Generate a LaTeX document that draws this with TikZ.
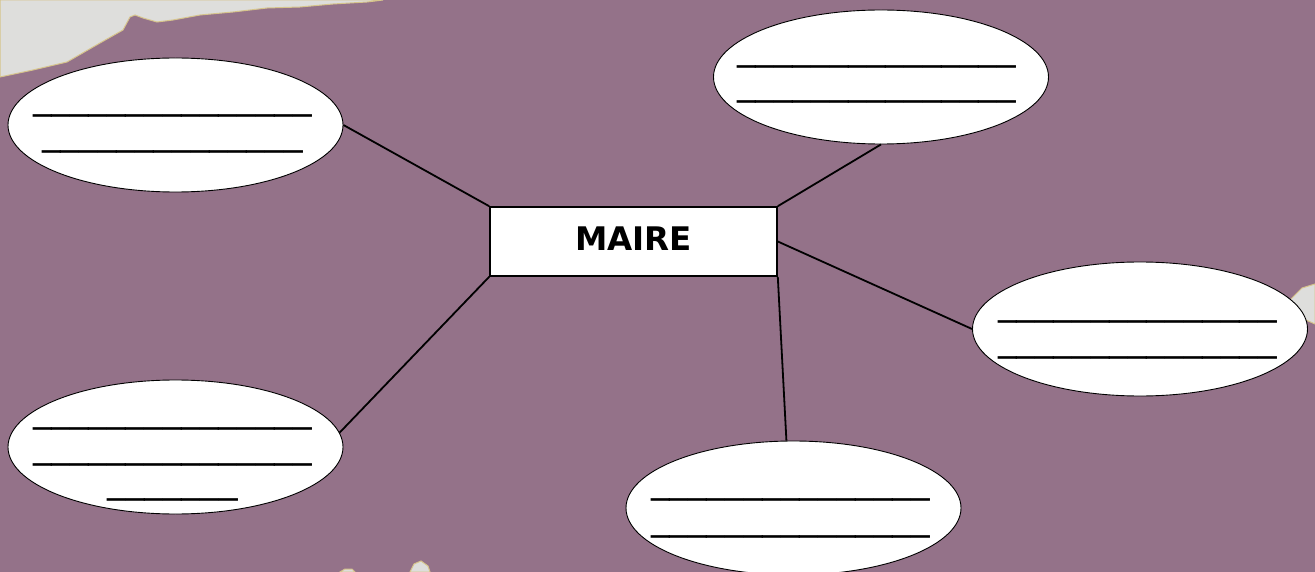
\documentclass[tikz,border=0pt]{standalone}
\usepackage{fontspec}
\setmainfont{DejaVu Sans}
\usetikzlibrary{shapes.geometric}
\definecolor{bgpurple}{RGB}{148,114,137}
\definecolor{paper}{RGB}{222,222,220}
\definecolor{paperedge}{RGB}{214,196,140}
\tikzset{
  bubble/.style={ellipse, draw=black, line width=0.9pt, fill=white, minimum width=335pt, minimum height=134pt, inner sep=0pt},
  blank/.style={font=\fontsize{37.2}{36}\selectfont, inner sep=0pt, anchor=base},
  link/.style={draw=black, line width=1.8pt},
  torn/.style={fill=paper, draw=paperedge, line width=1pt}
}
\begin{document}
\begin{tikzpicture}[x=1pt,y=-1pt]
\useasboundingbox (0,0) rectangle (1315,572);
\fill[bgpurple] (0,0) rectangle (1315,572);
% torn paper pieces
\path[torn] (0,0) -- (0,77) -- (33,70) -- (67,62) -- (100,43) -- (123,30) -- (130,17) -- (135,15) -- (143,18) -- (157,22) -- (173,20) -- (200,15) -- (233,12) -- (267,8) -- (300,7) -- (333,4) -- (367,2) -- (383,0) -- cycle;
\path[torn] (1315,284) -- (1302,288) -- (1294,296) -- (1288,302) -- (1296,312) -- (1306,320) -- (1315,324) -- cycle;
\path[torn] (410,572) -- (414,564) -- (421,561) -- (428,566) -- (430,572) -- cycle;
\path[torn] (340,572) -- (345,569) -- (352,569) -- (355,572) -- cycle;
% nodes
\node[bubble] (tl) at (175.5,125) {};
\node[bubble] (tr) at (881,77) {};
\node[bubble] (r) at (1140,329) {};
\node[bubble] (bl) at (175.5,447) {};
\node[bubble] (b) at (793.5,508) {};
\node[draw=black, line width=1.6pt, fill=white, minimum width=287pt, minimum height=69pt, inner sep=0pt, text height=23.3pt, text depth=6pt, font=\fontsize{32.5}{36}\selectfont\bfseries] (m) at (633.5,241.5) {MAIRE};
% blanks
\node[blank] (tl1) at (172.5,109) {\_\_\_\_\_\_\_\_\_\_\_\_\_\_\_};
\node[blank] (tl2) at (172.5,144.5) {\_\_\_\_\_\_\_\_\_\_\_\_\_\_};
\node[blank] (tr1) at (876.5,59.5) {\_\_\_\_\_\_\_\_\_\_\_\_\_\_\_};
\node[blank] (tr2) at (876.5,94.5) {\_\_\_\_\_\_\_\_\_\_\_\_\_\_\_};
\node[blank] (r1) at (1137.5,314.5) {\_\_\_\_\_\_\_\_\_\_\_\_\_\_\_};
\node[blank] (r2) at (1137.5,350.5) {\_\_\_\_\_\_\_\_\_\_\_\_\_\_\_};
\node[blank] (bl1) at (172.5,421.5) {\_\_\_\_\_\_\_\_\_\_\_\_\_\_\_};
\node[blank] (bl2) at (172.5,457.5) {\_\_\_\_\_\_\_\_\_\_\_\_\_\_\_};
\node[blank] (bl3) at (172.5,492.5) {\_\_\_\_\_\_\_};
\node[blank] (b1) at (790.5,492.5) {\_\_\_\_\_\_\_\_\_\_\_\_\_\_\_};
\node[blank] (b2) at (790.5,529.5) {\_\_\_\_\_\_\_\_\_\_\_\_\_\_\_};
% connectors
\draw[link] (tl.east) -- (m.north west);
\draw[link] (bl.5) -- (m.south west);
\draw[link] (tr.south) -- (m.north east);
\draw[link] (r.west) -- (m.east);
\draw[link] (b.96) -- (m.south east);
\end{tikzpicture}
\end{document}
